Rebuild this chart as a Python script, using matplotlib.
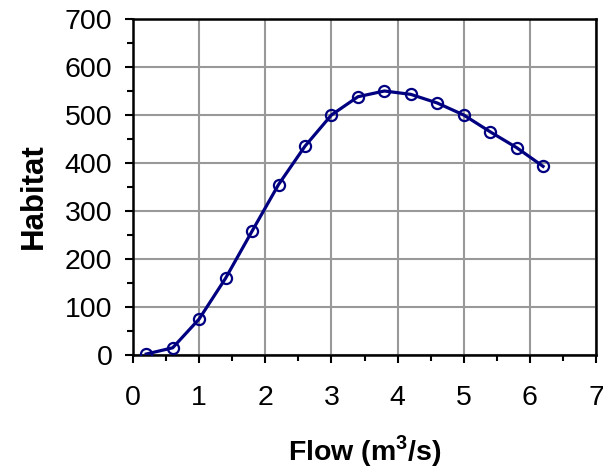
import matplotlib
matplotlib.use('Agg')
import matplotlib.pyplot as plt
from matplotlib.ticker import MultipleLocator

plt.rcParams['font.family'] = ['Liberation Sans', 'DejaVu Sans']

flow = [0.2, 0.6, 1.0, 1.4, 1.8, 2.2, 2.6, 3.0, 3.4, 3.8, 4.2, 4.6, 5.0, 5.4, 5.8, 6.2]
habitat = [2, 15, 75, 160, 258, 355, 435, 500, 538, 550, 543, 525, 500, 465, 432, 393]

fig = plt.figure(figsize=(6.03, 4.72), dpi=100)
ax = fig.add_axes([133 / 603, 1 - 355 / 472, (596 - 133) / 603, (355 - 19) / 472])

ax.plot(flow, habitat, '-o', color='#000080', lw=2.3, ms=8, mfc='none', mec='#000080', mew=1.6, zorder=3)

ax.set_xlim(0, 7)
ax.set_ylim(0, 700)
ax.xaxis.set_major_locator(MultipleLocator(1))
ax.xaxis.set_minor_locator(MultipleLocator(0.5))
ax.yaxis.set_major_locator(MultipleLocator(100))
ax.yaxis.set_minor_locator(MultipleLocator(50))
ax.grid(True, which='major', color='#999999', lw=1.5)
ax.set_axisbelow(True)
for s in ax.spines.values():
    s.set_linewidth(1.8)
    s.set_color('black')
ax.tick_params(which='major', direction='out', length=5.8, width=1.5, labelsize=20.5)
ax.tick_params(which='minor', direction='out', length=4.5, width=1.5)
ax.tick_params(axis='y', pad=9)
ax.tick_params(axis='x', pad=16)

ax.set_xlabel('Flow (m$^\\mathregular{3}$/s)', fontsize=20.5, fontweight='bold', va='center')
ax.set_ylabel('Habitat', fontsize=22.5, fontweight='bold', va='center')
ax.xaxis.set_label_coords(0.5, (355 - 451) / 336)
ax.yaxis.set_label_coords((34 - 133) / 463, (355 - 196) / 336)

fig.savefig('out.png', dpi=100)
